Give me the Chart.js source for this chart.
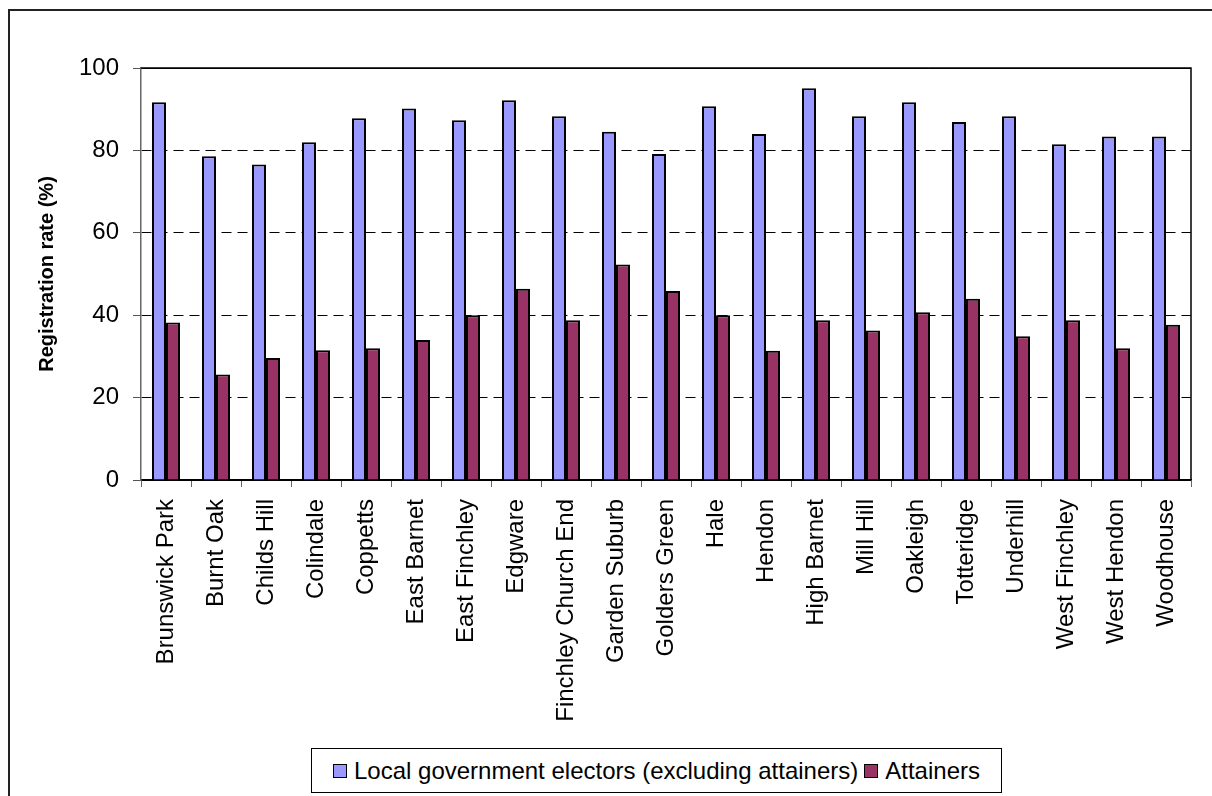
<!DOCTYPE html>
<html>
<head>
<meta charset="utf-8">
<script src="https://cdn.jsdelivr.net/npm/chart.js@4/dist/chart.umd.min.js"></script>
<style>
    html, body { margin: 0; padding: 0; background: #fff; overflow: hidden; }
    #wrap { position: relative; width: 1212px; height: 796px; }
    #frame { position: absolute; left: 8px; top: 9px; width: 1300px; height: 900px;
             border-left: 2px solid #222; border-top: 2px solid #222; }
    #chart { position: absolute; left: 0; top: 0; }
    #legend { position: absolute; left: 311px; top: 748px; width: 689px; height: 43px;
              border: 1px solid #000; background: #fff; display: flex; align-items: center;
              justify-content: center; font-family: "Liberation Sans", Arial, sans-serif;
              font-size: 24px; color: #000; white-space: nowrap; }
    #legend .item { display: flex; align-items: center; margin: 0 3px; }
    #legend .box { width: 12px; height: 12px; border: 1.5px solid #000; margin-right: 7px; }
</style>
</head>
<body>
<div id="wrap">
    <div id="frame"></div>
    <canvas id="chart" width="1212" height="796"></canvas>
    <div id="legend"></div>
</div>
<script>
    var wards = ["Brunswick Park", "Burnt Oak", "Childs Hill", "Colindale", "Coppetts", "East Barnet",
                 "East Finchley", "Edgware", "Finchley Church End", "Garden Suburb", "Golders Green",
                 "Hale", "Hendon", "High Barnet", "Mill Hill", "Oakleigh", "Totteridge", "Underhill",
                 "West Finchley", "West Hendon", "Woodhouse"];

    var electors = [91.7, 78.6, 76.6, 82.0, 87.8, 90.2, 87.3, 92.2, 88.3, 84.5, 79.1,
                    90.7, 84.0, 95.1, 88.3, 91.7, 86.9, 88.3, 81.5, 83.4, 83.4];

    var attainers = [38.2, 25.6, 29.6, 31.5, 32.0, 34.0, 40.0, 46.4, 38.8, 52.3, 45.9,
                     40.0, 31.4, 38.8, 36.3, 40.7, 44.0, 34.9, 38.8, 32.0, 37.7];

    var yTicks = [0, 20, 40, 60, 80, 100];

    var font = "'Liberation Sans', Arial, sans-serif";

    // right and top edge of the plot area
    var plotFrame = {
        id: 'plotFrame',
        afterDraw: function(chart) {
            var a = chart.chartArea, ctx = chart.ctx;
            ctx.save();
            ctx.strokeStyle = '#000';
            ctx.lineWidth = 1.5;
            ctx.beginPath();
            ctx.moveTo(a.left, a.top);
            ctx.lineTo(a.right, a.top);
            ctx.lineTo(a.right, a.bottom);
            ctx.stroke();
            ctx.restore();
        }
    };

    var ctx = document.getElementById('chart');
    var chart = new Chart(ctx, {
        type: 'bar',
        data: {
            labels: wards,
            datasets: [
                {
                    label: 'Local government electors (excluding attainers)',
                    data: electors,
                    backgroundColor: '#9999FF',
                    borderColor: '#000',
                    borderWidth: 2
                },
                {
                    label: 'Attainers',
                    data: attainers,
                    backgroundColor: '#993366',
                    borderColor: '#000',
                    borderWidth: 2
                }
            ]
        },
        options: {
            responsive: false,
            animation: false,
            layout: { padding: { left: 35, top: 68, right: 21, bottom: 0 } },
            datasets: { bar: { categoryPercentage: 0.56, barPercentage: 1.0 } },
            plugins: {
                legend: { display: false },
                tooltip: { enabled: false }
            },
            scales: {
                x: {
                    afterFit: function(s) { s.height = 316; },
                    grid: { drawOnChartArea: false, drawTicks: true, tickLength: 7, color: '#666', offset: true },
                    border: { color: '#000', width: 1.5 },
                    ticks: {
                        autoSkip: false, maxRotation: 90, minRotation: 90, padding: 12,
                        color: '#000', font: { family: font, size: 24 }
                    }
                },
                y: {
                    min: 0,
                    max: 100,
                    afterFit: function(s) { s.width = 106; },
                    afterBuildTicks: function(s) {
                        s.ticks = yTicks.map(function(v) { return { value: v }; });
                    },
                    grid: {
                        color: '#000', lineWidth: 1, tickLength: 8, tickColor: '#555'
                    },
                    border: {
                        color: '#666', width: 1.5,
                        dash: function(c) {
                            if (c.tick && (c.tick.value === 0 || c.tick.value === 100)) return [];
                            return [10, 6];
                        }
                    },
                    ticks: { padding: 14, color: '#000', font: { family: font, size: 24 } },
                    title: {
                        display: true,
                        text: 'Registration rate (%)',
                        color: '#000',
                        padding: 0,
                        font: { family: font, size: 20, weight: 'bold' }
                    }
                }
            }
        },
        plugins: [plotFrame]
    });

    // legend from the chart's own datasets
    var legend = document.getElementById('legend');
    chart.data.datasets.forEach(function(ds) {
        var item = document.createElement('span');
        item.className = 'item';
        var box = document.createElement('span');
        box.className = 'box';
        box.style.background = ds.backgroundColor;
        var txt = document.createElement('span');
        txt.textContent = ds.label;
        item.appendChild(box);
        item.appendChild(txt);
        legend.appendChild(item);
    });
</script>
</body>
</html>
